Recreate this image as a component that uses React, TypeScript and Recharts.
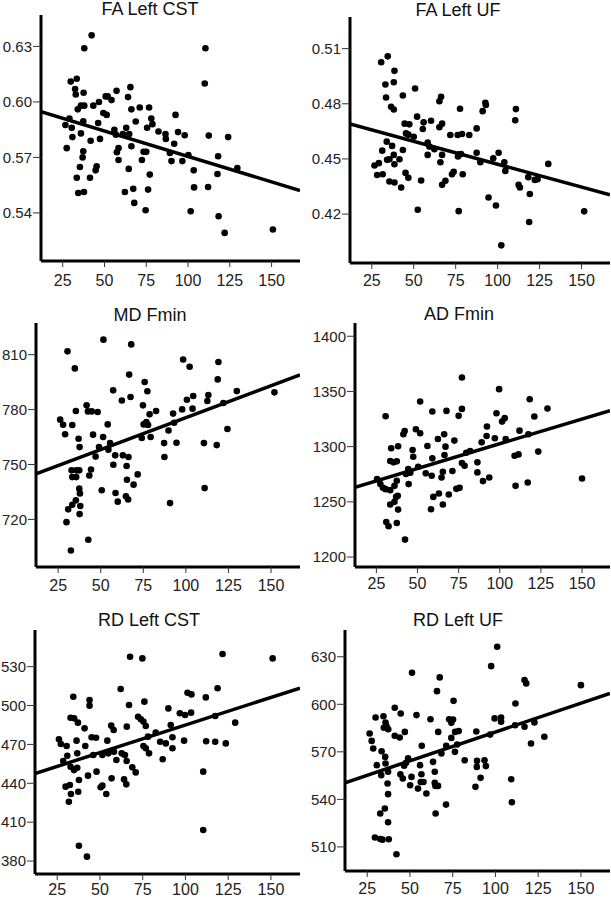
import React from "react";
import { ScatterChart, Scatter, XAxis, YAxis } from "recharts";

// shared x axis (same subjects in every panel)
const xDomain = [12, 167];
const xTicks = [25, 50, 75, 100, 125, 150];

const faCstTicks = [0.54, 0.57, 0.6, 0.63];
const faUfTicks = [0.42, 0.45, 0.48, 0.51];
const mdTicks = [720, 750, 780, 810];
const adTicks = [1200, 1250, 1300, 1350, 1400];
const rdCstTicks = [380, 410, 440, 470, 500, 530];
const rdUfTicks = [510, 540, 570, 600, 630];

const faCstPts = [
  [42.3, 0.636], [37.9, 0.629], [110.4, 0.629], [110, 0.61], [29.8, 0.611], [33.4, 0.6125],
  [32.4, 0.607], [32.8, 0.604], [37.5, 0.605], [57.2, 0.606], [65.5, 0.608], [46.7, 0.6],
  [50.7, 0.603], [51.9, 0.603], [54.2, 0.601], [43.3, 0.598], [37.9, 0.598], [35.9, 0.598],
  [34, 0.596], [64.1, 0.6026], [66.1, 0.596], [71.1, 0.597], [76.7, 0.597], [49.3, 0.594],
  [51.3, 0.593], [92.5, 0.593], [29, 0.591], [26.6, 0.5875], [30.4, 0.586], [37.3, 0.5895],
  [46.2, 0.5886], [68.7, 0.5894], [78, 0.591], [78.7, 0.588], [75.5, 0.586], [63, 0.586],
  [55.9, 0.585], [82.3, 0.584], [94, 0.5837], [86.5, 0.5827], [35.9, 0.583], [64.8, 0.5827],
  [56.8, 0.5823], [61, 0.5827], [98, 0.582], [112.4, 0.5818], [124, 0.581], [30.8, 0.581],
  [47.3, 0.58], [86.7, 0.58], [41.7, 0.579], [91.7, 0.5774], [66.1, 0.576], [27.4, 0.575],
  [58.4, 0.575], [57.4, 0.5728], [73.4, 0.573], [75, 0.573], [89.1, 0.5724], [37.3, 0.5733],
  [36.9, 0.57], [100.2, 0.5713], [118, 0.5706], [58.4, 0.5686], [72.4, 0.5686], [90.1, 0.568],
  [96.6, 0.568], [35.3, 0.5648], [45.3, 0.5652], [44.7, 0.563], [64.5, 0.5638], [103.4, 0.563],
  [129.5, 0.5643], [33.4, 0.559], [41.3, 0.559], [77.1, 0.5607], [117.6, 0.561], [103.6, 0.5538],
  [112, 0.554], [34.3, 0.5508], [37.7, 0.5513], [62.2, 0.5513], [67.2, 0.553], [76.1, 0.5526],
  [67.8, 0.5454], [74.6, 0.5414], [101.6, 0.5409], [118.3, 0.5382], [121.9, 0.5292], [150.8, 0.531],
];
const faCstFit = [[12, 0.5948], [167, 0.5521]];

const faUfPts = [
  [34.5, 0.5058], [30.6, 0.5026], [38.5, 0.4979], [33.1, 0.4905], [38.1, 0.4917], [50.8, 0.4883],
  [33.5, 0.4834], [43.5, 0.4845], [66.3, 0.4838], [65.3, 0.4814], [36.5, 0.4784], [38.1, 0.4769],
  [92.7, 0.4805], [93, 0.4793], [77.6, 0.4773], [91.1, 0.476], [110.9, 0.4771], [110.5, 0.471],
  [52, 0.473], [60.3, 0.4708], [55.9, 0.4699], [44.6, 0.4692], [47.4, 0.4688], [66.9, 0.4692],
  [65.3, 0.4672], [55.4, 0.4663], [87.5, 0.4666], [45.4, 0.4639], [46.8, 0.4632], [50, 0.4621],
  [71.8, 0.463], [76.2, 0.463], [78.8, 0.4636], [83.1, 0.463], [33.9, 0.4594], [37.1, 0.4571],
  [58.3, 0.4589], [59.3, 0.4567], [43.5, 0.4549], [31.2, 0.4545], [62.3, 0.4553], [65.9, 0.4482],
  [58.3, 0.4522], [66.9, 0.4522], [77, 0.4525], [78.2, 0.4527], [87.5, 0.4534], [100.6, 0.4534],
  [38.1, 0.4522], [35.5, 0.4498], [41.5, 0.4498], [34.1, 0.4495], [38.5, 0.4471], [26.6, 0.4464],
  [29.2, 0.4477], [76.4, 0.4513], [89.7, 0.4482], [97.4, 0.4504], [104, 0.4482], [104.6, 0.4435],
  [130.2, 0.4473], [45.1, 0.4424], [46.8, 0.4397], [28.2, 0.4413], [31.5, 0.4417], [35.5, 0.4377],
  [38.5, 0.4372], [42.5, 0.4345], [54.4, 0.4383], [66.9, 0.4359], [68.9, 0.4381], [72.8, 0.4417],
  [73.8, 0.443], [79.2, 0.4417], [112.5, 0.4359], [113.3, 0.4345], [118.3, 0.4401], [122.2, 0.4386],
  [123.8, 0.439], [94.6, 0.429], [99, 0.4247], [119.2, 0.4309], [52.4, 0.4224], [76.8, 0.4216],
  [151.6, 0.4215], [118.8, 0.4157], [102.2, 0.403],
];
const faUfFit = [[12, 0.469], [167, 0.4305]];

const mdPts = [
  [51.6, 818.2], [67.9, 815.6], [30.5, 811.8], [34.8, 802.5], [98.4, 807.4], [102.2, 803.4],
  [119.1, 806], [66.7, 799.1], [75.8, 795.1], [118.7, 796.5], [57.3, 790.5], [77.4, 790],
  [129.9, 790.1], [152, 789.4], [67.5, 786.9], [62.4, 785], [104.3, 787.4], [113.2, 788],
  [100.6, 785.4], [112.6, 784.7], [122, 783.6], [41.7, 782.3], [74.8, 782.3], [35.4, 779.2],
  [42.5, 779], [44.7, 779], [48.2, 778.7], [82.5, 779.2], [97.8, 780.1], [103.9, 780.5],
  [78.7, 777.4], [92.5, 777.8], [26.2, 774.5], [27.9, 771.7], [33.3, 771.6], [54.1, 771.9],
  [75.2, 771.9], [76.8, 773.2], [77.8, 771.6], [93.1, 772.8], [29.1, 766.5], [45.5, 766.3],
  [51.4, 765], [74.1, 764.5], [79.3, 765], [89.8, 768.6], [124.4, 769.4], [37, 764.1],
  [37.6, 759.5], [49, 759.5], [55.5, 761.7], [87.2, 761.7], [94.5, 761.9], [110.6, 761.7],
  [118.1, 760.6], [54.5, 758.1], [58.5, 755], [63, 755], [66.3, 754.1], [47, 754.3],
  [87.4, 754.1], [57.4, 749.9], [65.2, 749.2], [32.9, 746.8], [35.8, 746.8], [37.4, 746.8],
  [44.3, 747.3], [33.3, 743.1], [35.6, 743.1], [43.3, 744], [71.7, 744.6], [65.4, 741.7],
  [69.3, 739], [37.4, 736.8], [37.8, 734.2], [50.6, 735.9], [58.7, 734.4], [64.8, 732.6],
  [66.1, 730.9], [111, 737.1], [35.4, 730.4], [33.3, 728], [38, 727.3], [30.9, 725.5],
  [60, 729.7], [90.7, 728.9], [37.6, 722.9], [29.9, 718.5], [42.7, 708.9], [32.5, 703],
];
const mdFit = [[12, 744.9], [167, 799]];

const adPts = [
  [77, 1362.7], [99.6, 1352.1], [51.6, 1340.9], [98, 1330.3], [118.2, 1343], [129, 1334.5],
  [30.6, 1327.6], [59, 1331.8], [67.6, 1332.4], [77, 1334.2], [75, 1327.9], [103, 1325.8],
  [121, 1327.3], [42.2, 1314.2], [41.4, 1311.2], [49, 1315.8], [51.6, 1312.1], [101.4, 1322.7],
  [112, 1314.5], [92.2, 1318.2], [92, 1309.7], [72.4, 1305.5], [62.4, 1307], [66.2, 1311.2],
  [89, 1303.9], [97, 1307.6], [103.6, 1307], [117.4, 1311.2], [34, 1298.5], [38.2, 1300.3],
  [47, 1297], [56, 1300.6], [67, 1300], [82, 1296.1], [33.4, 1287], [35.4, 1285.8],
  [37.4, 1286.7], [47.4, 1290.9], [59, 1289.4], [66.4, 1292.4], [79.6, 1294.5], [77, 1285.2],
  [78.6, 1282.7], [86.4, 1285.8], [109, 1291.8], [111.4, 1293], [123.4, 1295.5], [50.4, 1281.8],
  [55, 1275.8], [58.6, 1273.6], [44.4, 1279.7], [45.6, 1276.4], [43, 1275.2], [65.4, 1277.3],
  [64.6, 1272.1], [71.2, 1277.9], [86.4, 1276.7], [93.6, 1272.1], [150, 1271.2], [25.4, 1270.6],
  [27.4, 1266.1], [29, 1262.7], [30.6, 1261.5], [33.4, 1260.6], [36, 1264.5], [37.4, 1269.1],
  [44.6, 1266.1], [89.8, 1268.8], [109.6, 1264.5], [117, 1267.6], [73.6, 1261.8], [75.6, 1262.7],
  [69, 1256.7], [63, 1257.6], [59.6, 1254.5], [37, 1254.5], [38, 1255.5], [36, 1250],
  [33.4, 1247.6], [65.4, 1247.6], [58.2, 1243.3], [38.2, 1243], [31, 1231.8], [32.4, 1227.9],
  [37.4, 1230.9], [42.4, 1215.8],
];
const adFit = [[12, 1263.2], [167, 1332.7]];

const rdCstPts = [
  [67.6, 537.7], [74.8, 536.4], [121.7, 539.8], [151, 536.4], [62.1, 512.8], [118.8, 513.3],
  [101.2, 509.9], [103.5, 508.6], [111.9, 506.3], [34.4, 506.8], [43.9, 504.3], [43.9, 499.9],
  [67, 500.4], [76, 503], [90, 497.8], [96.7, 494], [99.8, 492.7], [103.3, 494.5],
  [117.4, 491.9], [32.8, 490.6], [34.9, 490.1], [72.3, 491.4], [73.9, 489.4], [75.4, 487.6],
  [37.1, 486.8], [56.6, 484.5], [65.7, 483.7], [76.8, 484.2], [129.1, 486.8], [41, 482.4],
  [58, 481.1], [91.4, 485], [82.6, 479.1], [78.1, 476], [92.4, 475.5], [99.2, 472.9],
  [112.1, 472.4], [117.4, 472.1], [123.6, 470.8], [85.2, 472.1], [88.5, 470.8], [26, 473.9],
  [27.1, 470.3], [30.5, 468.8], [36.3, 472.9], [41.4, 468.8], [45.1, 475.5], [47.7, 475.2],
  [54.3, 472.9], [75.4, 468.8], [76.8, 467], [78.7, 463.1], [92.4, 467], [36.7, 463.1],
  [30.9, 461.3], [46.1, 461.8], [51.4, 461.8], [54.9, 463.1], [58.2, 464.4], [62.7, 463.1],
  [64.6, 461.8], [59.6, 458], [65.6, 457.2], [86.7, 458.5], [28.5, 457.2], [32.8, 452.8],
  [36.7, 452], [34.8, 450.2], [68.9, 452.3], [70.9, 448.4], [48, 449], [110.4, 449],
  [43, 445.9], [56.8, 443.8], [64.1, 443], [65.4, 439.2], [29.9, 437.4], [32.4, 438.7],
  [37.7, 442.5], [50.4, 436.9], [51.4, 438.2], [53.7, 431.7], [33, 431.7], [37.3, 433.5],
  [31.8, 425.8], [110.4, 403.9], [37.7, 391.8], [42.4, 383.4],
];
const rdCstFit = [[12, 447.5], [167, 513.5]];

const rdUfPts = [
  [101, 636.3], [97.5, 624.1], [51.2, 619.9], [67.4, 617], [117, 615.3], [118, 613.2],
  [150, 612.1], [65.8, 608.3], [75.5, 602.2], [111.7, 600.5], [41.1, 597.8], [44.6, 594.2],
  [29.9, 591.7], [34.5, 592.5], [53.8, 593.2], [62, 590.6], [72.9, 590.6], [75.2, 590.4],
  [99.5, 591.1], [103.3, 591.7], [103.3, 589], [74.2, 588.3], [35.7, 588.5], [36.3, 586.2],
  [34.7, 585.2], [37.3, 584.3], [122.8, 588.5], [111.5, 586.8], [117, 585.8], [26.4, 581.6],
  [27.6, 576.9], [28.5, 572.1], [47, 582.6], [66.5, 582.6], [76.4, 582.6], [78.5, 583.1],
  [88.8, 582.8], [96.9, 580.9], [41.1, 580.1], [44, 579.1], [74.2, 578.8], [128.6, 579.5],
  [71.2, 573.8], [56.9, 573.8], [77.6, 574.6], [120.8, 575.3], [33.4, 570.4], [76.3, 570],
  [68.4, 569], [35.5, 566.8], [48.9, 566], [82, 564.7], [93.6, 564.7], [89.2, 564.3],
  [30.6, 561.6], [35.7, 562.6], [47.7, 563.1], [46.6, 561.2], [55.9, 561.6], [63.5, 563.7],
  [64.5, 557.4], [89.1, 560.5], [94.4, 561], [37.2, 557.4], [33.2, 555.3], [44.4, 555.9],
  [45.8, 553.2], [50.9, 554.2], [56.7, 555.9], [56.3, 551], [57.9, 551], [50.1, 548.9],
  [54.7, 546.8], [64.5, 550.4], [64.9, 548.5], [66.4, 548.5], [91.3, 553.6], [88.3, 547.9],
  [109.2, 552.7], [59.6, 543.7], [36.9, 550], [37.2, 543.3], [35.3, 534.2], [32.6, 531.1],
  [65, 531.1], [71.1, 536.7], [109.6, 538.2], [37.2, 525.6], [29.5, 515.9], [32.6, 515],
  [33.9, 514.6], [37.6, 514.8], [42.1, 505.4],
];
const rdUfFit = [[12, 550.5], [167, 606.9]];

const FONT = '"Liberation Sans", Arial, Helvetica, sans-serif';

const toXY = (arr) => arr.map(([x, y]) => ({ x, y }));

// box = chart container [left, top, w, h]; plot = [left, top, right, bottom] in page px
const panels = [
  { title: "FA Left CST", titleX: 150, titleBase: 15, box: [0, 0, 305, 300], plot: [41, 15, 300, 261], xGap: 8,
    pts: faCstPts, fit: faCstFit, yDomain: [0.514, 0.647], yTicks: faCstTicks, fmt: (v) => v.toFixed(2) },
  { title: "FA Left UF", titleX: 458, titleBase: 16, box: [305, 0, 306, 300], plot: [350, 17, 610, 263], xGap: 6,
    pts: faUfPts, fit: faUfFit, yDomain: [0.3934, 0.5272], yTicks: faUfTicks, fmt: (v) => v.toFixed(2) },
  { title: "MD Fmin", titleX: 150, titleBase: 321, box: [0, 300, 305, 300], plot: [36, 323, 300, 567], xGap: 7,
    pts: mdPts, fit: mdFit, yDomain: [694, 827.3], yTicks: mdTicks, fmt: (v) => String(v) },
  { title: "AD Fmin", titleX: 459, titleBase: 320, box: [305, 300, 306, 300], plot: [355, 323, 610, 567], xGap: 5,
    pts: adPts, fit: adFit, yDomain: [1191, 1412], yTicks: adTicks, fmt: (v) => String(v) },
  { title: "RD Left CST", titleX: 149, titleBase: 626, box: [0, 600, 305, 299], plot: [35, 630, 300, 874], xGap: 4,
    pts: rdCstPts, fit: rdCstFit, yDomain: [370, 558.3], yTicks: rdCstTicks, fmt: (v) => String(v) },
  { title: "RD Left UF", titleX: 458, titleBase: 626, box: [305, 600, 306, 299], plot: [345, 630, 610, 871], xGap: 6,
    pts: rdUfPts, fit: rdUfFit, yDomain: [494.8, 646.9], yTicks: rdUfTicks, fmt: (v) => String(v) },
];

const Dot = (props) => <circle cx={props.cx} cy={props.cy} r={3.3} fill="#000" />;
const NoDot = () => <g />;

const xTickStyle = { fontSize: 16, fill: "#222", fontFamily: FONT };
const yTickStyle = { fontSize: 15, fill: "#222", fontFamily: FONT };

function Panel({ p }) {
  const [bx, by, bw, bh] = p.box;
  const [pl, pt, pr, pb] = p.plot;
  const xAxisH = by + bh - pb;
  return (
    <div style={{ position: "absolute", left: bx, top: by, width: bw, height: bh }}>
      <ScatterChart
        width={bw}
        height={bh}
        margin={{ top: pt - by, right: bx + bw - pr, bottom: 0, left: 0 }}
      >
        <XAxis
          type="number"
          dataKey="x"
          domain={xDomain}
          ticks={xTicks}
          allowDataOverflow
          height={xAxisH}
          axisLine={{ stroke: "#000", strokeWidth: 3 }}
          tickLine={{ stroke: "#333", strokeWidth: 1 }}
          tickSize={6}
          tickMargin={p.xGap}
          tick={xTickStyle}
        />
        <YAxis
          type="number"
          dataKey="y"
          domain={p.yDomain}
          ticks={p.yTicks}
          allowDataOverflow
          width={pl - bx}
          tickFormatter={p.fmt}
          axisLine={{ stroke: "#000", strokeWidth: 3 }}
          tickLine={{ stroke: "#333", strokeWidth: 1 }}
          tickSize={8}
          tickMargin={1}
          tick={yTickStyle}
        />
        <Scatter data={toXY(p.pts)} shape={Dot} isAnimationActive={false} />
        <Scatter
          data={toXY(p.fit)}
          shape={NoDot}
          line={{ stroke: "#000", strokeWidth: 3.5 }}
          isAnimationActive={false}
        />
      </ScatterChart>
      <div
        style={{
          position: "absolute",
          left: p.titleX - 150 - bx,
          top: p.titleBase - 15 - by,
          width: 300,
          textAlign: "center",
          fontSize: 18,
          lineHeight: "18px",
          fontFamily: FONT,
          color: "#111",
          pointerEvents: "none",
        }}
      >
        {p.title}
      </div>
    </div>
  );
}

export default function App() {
  return (
    <div
      style={{
        position: "absolute",
        left: 0,
        top: 0,
        width: 611,
        height: 899,
        background: "#fff",
        fontFamily: FONT,
      }}
    >
      {panels.map((p) => (
        <Panel key={p.title} p={p} />
      ))}
    </div>
  );
}
